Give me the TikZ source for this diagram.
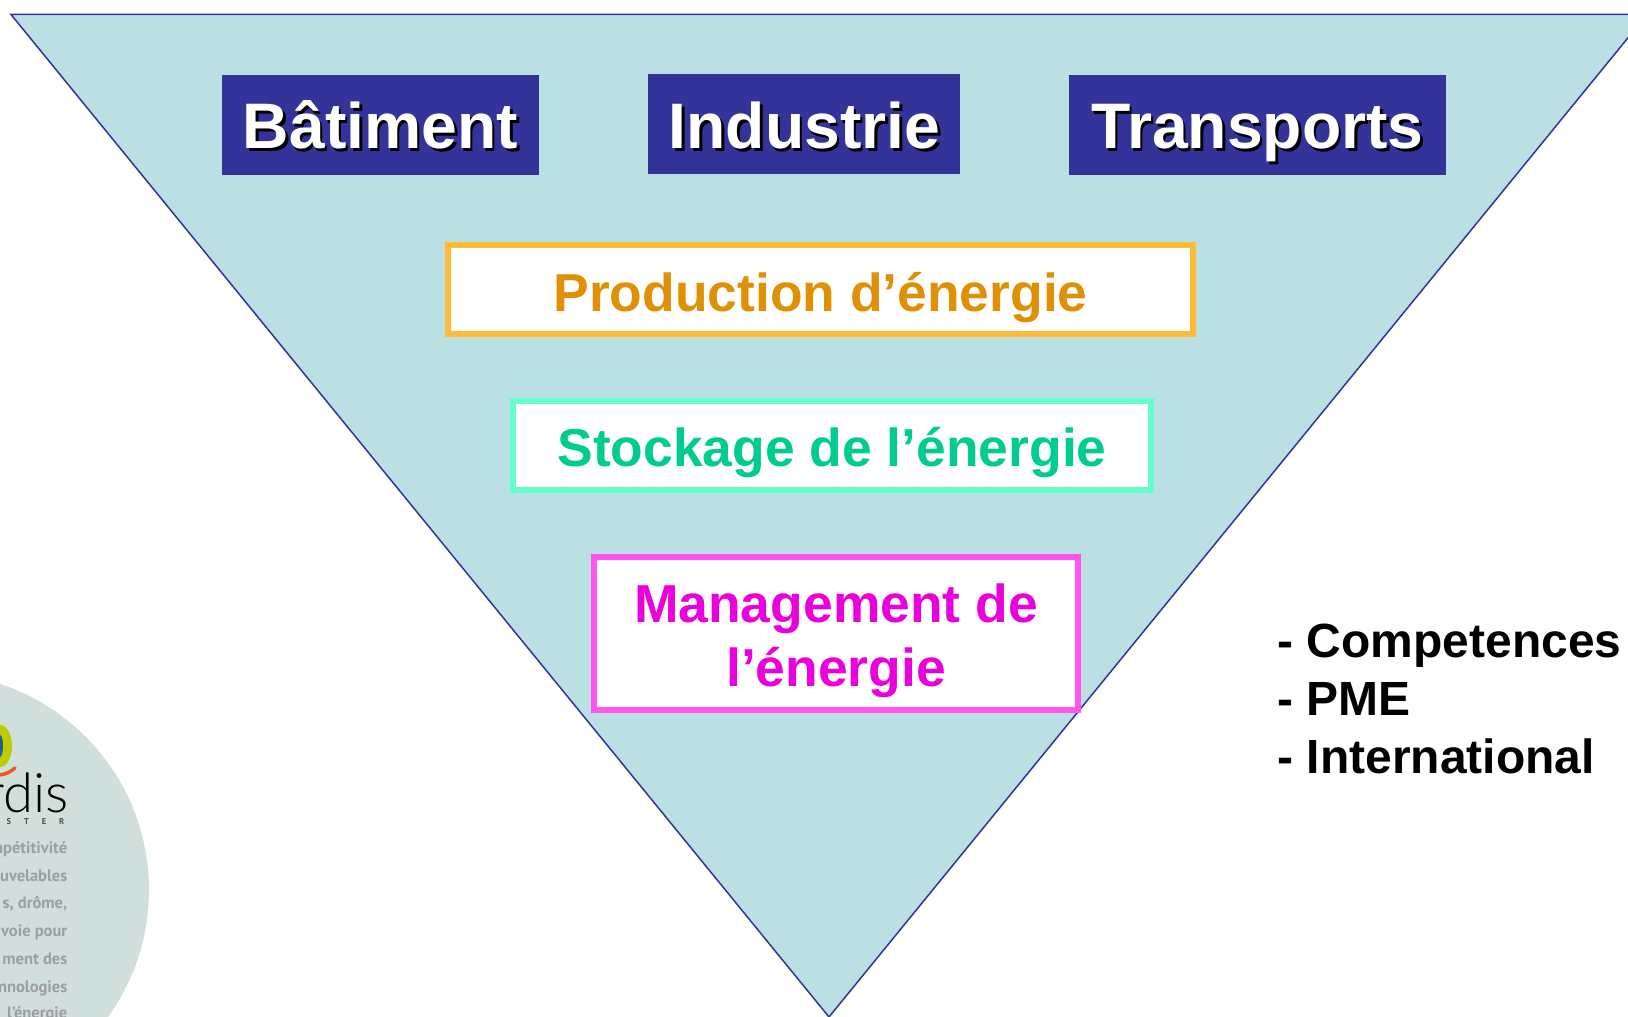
\documentclass[tikz,border=0pt]{standalone}
\usepackage{fontspec}
\setmainfont{Liberation Sans}
\newfontfamily\logofont{Lato Light}
\newfontfamily\logotextfont{PT Sans}
\usepackage{tikz}

\definecolor{trianglefill}{HTML}{BBE0E3}
\definecolor{navy}{HTML}{333399}
\definecolor{prodborder}{HTML}{FFBB33}
\definecolor{prodtext}{HTML}{DF9005}
\definecolor{stockborder}{HTML}{66FFCC}
\definecolor{stocktext}{HTML}{00CC8F}
\definecolor{mgmtborder}{HTML}{FF55EE}
\definecolor{mgmttext}{HTML}{EA00DC}
\definecolor{logocircle}{HTML}{D0DEDC}
\definecolor{logogray}{HTML}{9A9FA0}
\definecolor{logoyellow}{HTML}{BCCC00}
\definecolor{logoblue}{HTML}{1F5F8F}
\definecolor{logoorange}{HTML}{EE5A1E}

\tikzset{
  sectorbox/.style={fill=navy, inner sep=0pt, minimum height=1cm},
  sectorshadow/.style={anchor=base, text=black, font=\fontsize{18.3}{22}\selectfont\bfseries},
  sectortext/.style={anchor=base, text=white, font=\fontsize{18.3}{22}\selectfont\bfseries},
  fieldbox/.style={draw, line width=0.06cm, fill=white, inner sep=0pt, align=center,
    text height=0.536cm, text depth=0.113cm,
    font=\fontsize{15.2}{18.3}\selectfont\bfseries},
  logoline/.style={anchor=east, text=logogray, inner sep=0pt,
    font=\logotextfont\fontsize{4.7}{5}\selectfont\bfseries}
}

\begin{document}
\begin{tikzpicture}

        \useasboundingbox (0,0) rectangle (16.28,10.17);
        \clip (0,0) rectangle (16.28,10.17);

        %Logo
        \fill [logocircle] (-0.68,1.27) circle (2.17);
        \fill [logoyellow] (0,2.71) ellipse (0.12 and 0.21);
        \fill [logoblue] (0,2.71) ellipse (0.03 and 0.11);
        \draw [logoorange, line width=0.035cm, line cap=round] (0,2.42) to [bend right=15] (0.15,2.49);
        \node (logoname) [anchor=base east, inner sep=0pt, font=\logofont\fontsize{15.5}{16}\selectfont] at (0.69,2.04) {rdis};
        \node (logocluster) [anchor=east, inner sep=0pt, text=black!70, font=\logotextfont\fontsize{2.4}{3}\selectfont\bfseries] at (0.65,1.95) {U\hspace{0.13cm}S\hspace{0.13cm}T\hspace{0.13cm}E\hspace{0.13cm}R};
        \node (logoa) [logoline] at (0.68,1.68) {mpétitivité};
        \node (logob) [logoline] at (0.68,1.41) {uvelables};
        \node (logoc) [logoline] at (0.68,1.13) {s, drôme,};
        \node (logod) [logoline] at (0.68,0.85) {voie pour};
        \node (logoe) [logoline] at (0.68,0.58) {ment des};
        \node (logof) [logoline] at (0.68,0.29) {nnologies};
        \node (logog) [logoline] at (0.68,0.03) {l’énergie};

        %Triangle
        \draw [navy, line width=0.015cm, fill=trianglefill] (0.11,10.025) -- (16.47,10.025) -- (8.29,0) -- cycle;

        %Sectors
        \node (batiment) [sectorbox, minimum width=3.17cm] at (3.805,8.924) {};
        \node (batimentshadow) [sectorshadow] at (3.83,8.65) {Bâtiment};
        \node (batimenttext) [sectortext] at (3.805,8.68) {Bâtiment};

        \node (industrie) [sectorbox, minimum width=3.12cm] at (8.04,8.93) {};
        \node (industrieshadow) [sectorshadow] at (8.07,8.65) {Industrie};
        \node (industrietext) [sectortext] at (8.045,8.68) {Industrie};

        \node (transports) [sectorbox, minimum width=3.77cm] at (12.57,8.92) {};
        \node (transportsshadow) [sectorshadow] at (12.60,8.65) {Transports};
        \node (transportstext) [sectortext] at (12.575,8.68) {Transports};

        %Fields
        \node (production) [fieldbox, draw=prodborder, text=prodtext, minimum width=7.45cm, minimum height=0.89cm] at (8.205,7.27) {Production d’énergie};
        \node (stockage) [fieldbox, draw=stockborder, text=stocktext, minimum width=6.375cm, minimum height=0.89cm] at (8.32,5.715) {Stockage de l’énergie};
        \node (management) [fieldbox, text height=1.17cm, draw=mgmtborder, text=mgmttext, minimum width=4.84cm, minimum height=1.53cm] at (8.36,3.835) {Management de\\l’énergie};

        %List
        \node (list) [anchor=west, inner sep=0pt, align=left, font=\fontsize{13.65}{16.4}\selectfont\bfseries] at (12.77,3.18) {- Competences\\- PME\\- International};

\end{tikzpicture}
\end{document}
